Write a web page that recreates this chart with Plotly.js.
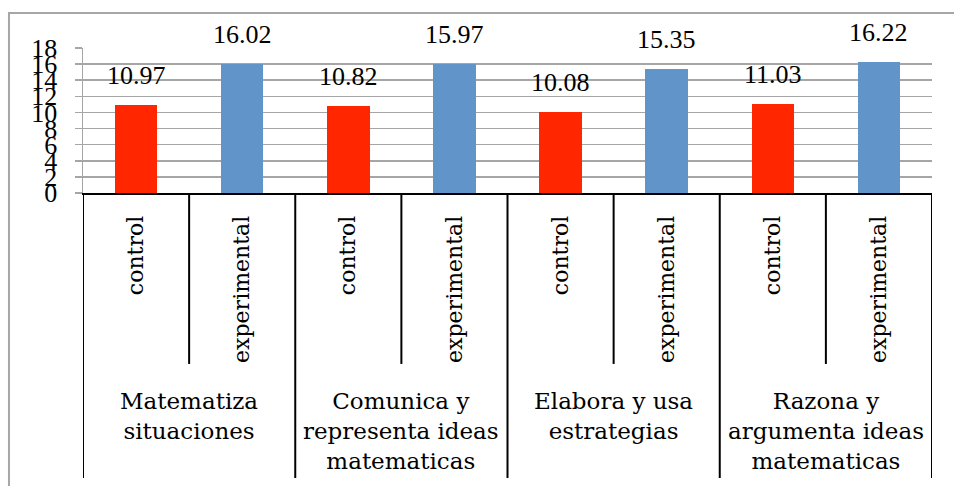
<!DOCTYPE html>
<html>
<head>
<meta charset="utf-8">
<script src="https://cdn.plot.ly/plotly-3.0.1.min.js"></script>
<style>
  html, body { margin: 0; padding: 0; background: #fff; }
  #chart { width: 954px; height: 486px; }
</style>
</head>
<body>
<div id="chart"></div>
<script>
// ---- data ----
const groups = ["Matematiza<br>situaciones", "Comunica y<br>representa ideas<br>matematicas", "Elabora y usa<br>estrategias", "Razona y<br>argumenta ideas<br>matematicas"];
const subLabels = ["control", "experimental"];
const controlValues = [10.97, 10.82, 10.08, 11.03];
const experimentalValues = [16.02, 15.97, 15.35, 16.22];
const yTicks = [0, 2, 4, 6, 8, 10, 12, 14, 16, 18];

// ---- build ----
const numFont = "Liberation Serif, Times New Roman, serif";
const txtFont = "DejaVu Serif, serif";
const colors = ["#FF2600", "#6195C9"];

const series = [controlValues, experimentalValues];
const tickvals = [], ticktext = [];
groups.forEach((g, gi) => subLabels.forEach((s, si) => { tickvals.push(gi * subLabels.length + si); ticktext.push(s); }));

const traces = series.map((vals, si) => ({
  type: "bar",
  x: vals.map((v, gi) => gi * subLabels.length + si),
  y: vals,
  width: 0.4,
  marker: { color: colors[si] },
  hoverinfo: "skip",
  showlegend: false
}));

const annotations = [];
series.forEach((vals, si) => vals.forEach((v, gi) => {
  annotations.push({
    x: gi * subLabels.length + si, y: v, xref: "x", yref: "y",
    text: v.toFixed(2), showarrow: false, yanchor: "bottom", yshift: 13,
    font: { family: numFont, size: 26, color: "#000" }
  });
}));
groups.forEach((g, gi) => {
  annotations.push({
    x: gi * subLabels.length + (subLabels.length - 1) / 2, y: -1.33, xref: "x", yref: "paper",
    text: g, showarrow: false, yanchor: "top", align: "center",
    font: { family: txtFont, size: 23, color: "#000" }
  });
});

const nCat = groups.length * subLabels.length;
const shapes = [];
for (let b = 0; b <= nCat; b++) {
  const isGroup = b % subLabels.length === 0;
  shapes.push({
    type: "line", xref: "x", yref: "paper",
    x0: b - 0.5, x1: b - 0.5, y0: 0, y1: isGroup ? -1.966 : -1.179,
    line: { color: "#000", width: 2 }
  });
}
// outer chart border (left and top only visible)
shapes.push({
  type: "rect", xref: "paper", yref: "paper",
  x0: -0.0872, x1: 1.5, y0: -3, y1: 1.241,
  line: { color: "#a6a6a6", width: 2 }, layer: "below"
});

const layout = {
  width: 954, height: 486, autosize: false,
  margin: { l: 83, r: 22, t: 48, b: 293, pad: 0 },
  paper_bgcolor: "#fff", plot_bgcolor: "#fff",
  showlegend: false,
  bargap: 0,
  xaxis: {
    range: [-0.5, nCat - 0.5],
    tickmode: "array", tickvals: tickvals, ticktext: ticktext,
    tickangle: -90, ticks: "", ticklabelstandoff: 12,
    tickfont: { family: txtFont, size: 22, color: "#000" },
    showline: true, linecolor: "#000", linewidth: 2,
    showgrid: false, zeroline: false, fixedrange: true
  },
  yaxis: {
    range: [0, 18], tickmode: "array", tickvals: yTicks, ticktext: yTicks.map(String),
    showgrid: true, gridcolor: "#a6a6a6", gridwidth: 1.5,
    showline: true, linecolor: "#a6a6a6", linewidth: 1.5,
    ticks: "outside", ticklen: 7, tickcolor: "#a6a6a6", tickwidth: 1.5,
    ticklabelstandoff: 12,
    tickfont: { family: numFont, size: 26, color: "#000" },
    zeroline: false, fixedrange: true
  },
  annotations: annotations,
  shapes: shapes
};

Plotly.newPlot("chart", traces, layout, { staticPlot: true, displayModeBar: false });
</script>
</body>
</html>
